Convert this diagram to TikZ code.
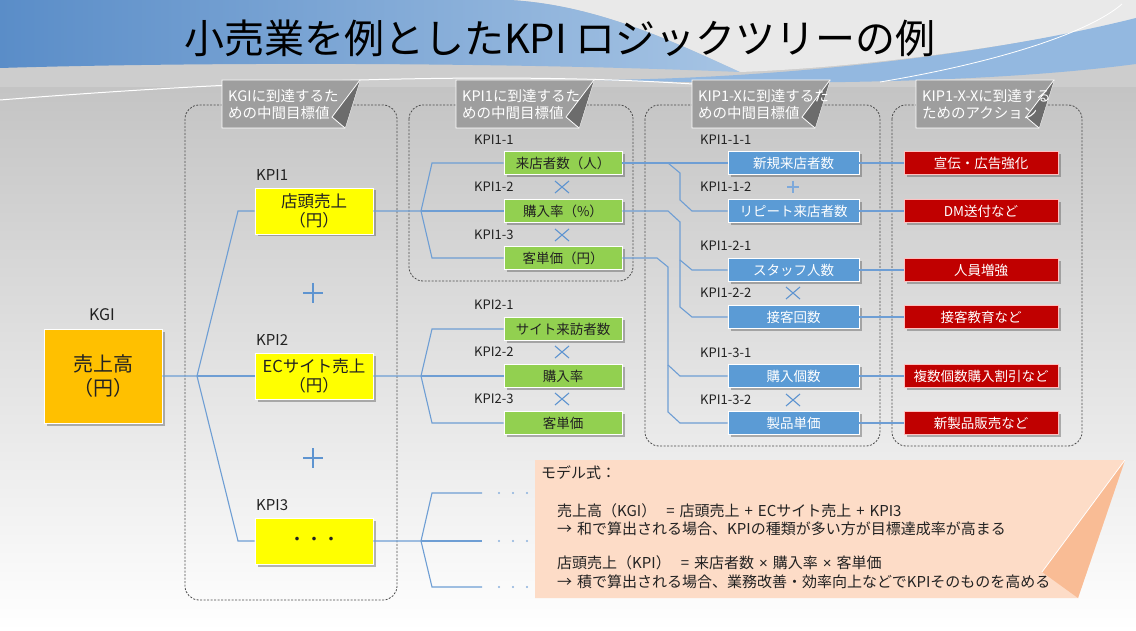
\documentclass[tikz,border=0pt]{standalone}
\usepackage{fontspec}
\setmainfont{Noto Sans CJK JP}
\newfontfamily\latinfont{Liberation Sans}
\usetikzlibrary{shadows}
\definecolor{kgiorange}{HTML}{FFC000}
\definecolor{kyellow}{HTML}{FFFF00}
\definecolor{kgreen}{HTML}{92D050}
\definecolor{kblue}{HTML}{5B9BD5}
\definecolor{kred}{HTML}{C00000}
\definecolor{linec}{HTML}{6E9ED4}
\definecolor{markc}{HTML}{5E94D0}
\definecolor{peach}{HTML}{FDDCC7}
\definecolor{peachdark}{HTML}{F9BC95}
\definecolor{callgray}{HTML}{9E9E9E}
\definecolor{folddark}{HTML}{6C6C6C}
\definecolor{bgA}{HTML}{C4C4C4}
\definecolor{bgTop}{HTML}{CDCDCD}
\definecolor{bgLight}{HTML}{E9E9E9}
\definecolor{blueL}{HTML}{5A8DC8}
\definecolor{blueR}{HTML}{A6C4E4}
\definecolor{swoosh}{HTML}{93B8E0}
\definecolor{txt}{HTML}{222222}
\newcommand\fsz[2]{\fontsize{#1}{#2}\selectfont}
\newcommand\smtimes{{\latinfont ×}}
\newcommand\mygap{\hspace{5pt}}
\tikzset{
  x=1pt, y=-1pt,
  box/.style={rectangle, inner sep=0pt, draw=white, line width=0.8pt,
    drop shadow={shadow xshift=2.5pt, shadow yshift=-2.5pt, opacity=0.4, fill=black!70}},
  gbox/.style={box, fill=kgreen, minimum width=118pt, minimum height=23pt, font=\fsz{13.5}{16}, text=txt},
  bbox/.style={box, fill=kblue, minimum width=131pt, minimum height=23pt, font=\fsz{13.5}{16}, text=white},
  rbox/.style={box, fill=kred, draw=red!25, minimum width=154pt, minimum height=23pt, font=\fsz{13.5}{16}, text=white},
  ybox/.style={box, fill=kyellow, minimum width=118pt, minimum height=46pt, font=\fsz{16.5}{19}, align=center, text=txt},
  lab/.style={anchor=west, inner sep=0pt, font=\fsz{13}{15}, text=txt},
  biglab/.style={anchor=west, inner sep=0pt, font=\fsz{15}{17}, text=txt},
  conn/.style={draw=linec, line width=1.1pt},
  dashbox/.style={draw=black!70, dash pattern=on 2pt off 1.5pt, rounded corners=14pt, line width=0.8pt},
  calltext/.style={anchor=west, inner sep=0pt, align=left, font=\fsz{14.5}{17}, text=white},
  modeltext/.style={anchor=west, inner sep=0pt, font=\fsz{15}{18}, text=txt},
  timesmark/.pic={\draw[markc, line width=1.1pt] (-7,-6) -- (7,6) (-7,6) -- (7,-6);},
  plusbig/.pic={\draw[markc, line width=1.8pt] (-10,0) -- (10,0) (0,-10) -- (0,10);},
  plussmall/.pic={\draw[markc!80, line width=1.1pt] (-6,0) -- (6,0) (0,-6) -- (0,6);},
  callout/.pic={
    \fill[callgray, draw=white, line width=0.8pt] (0,0) -- (138,0) -- (123,48) -- (0,48) -- cycle;
    \fill[folddark] (138,0) -- (123,48) -- (110,37) -- cycle;
    \draw[white, line width=0.8pt] (138,0) -- (110,37) -- (123,48);
  },
}
\begin{document}
\begin{tikzpicture}
\useasboundingbox (0,0) rectangle (1136,631);
% ---------- background ----------
\fill[bgTop] (0,0) rectangle (1136,90);
\shade[top color=bgA, bottom color=white] (0,88) rectangle (1136,631);
\fill[bgLight] (510,0) -- (1136,0) -- (1136,20) .. controls (1000,50) and (850,68) .. (740,72)
  .. controls (680,45) and (600,5) .. (510,0) -- cycle;
\shade[left color=blueL, right color=blueR] (0,0) -- (510,0) .. controls (600,5) and (680,45) .. (740,72)
  .. controls (500,62) and (200,62) .. (0,68) -- cycle;
\fill[swoosh] (600,80) .. controls (800,78) and (1000,52) .. (1136,18) -- (1136,64)
  .. controls (1000,82) and (800,86) .. (600,80) -- cycle;
\draw[white, line width=1pt] (0,100) .. controls (250,80) and (520,70) .. (720,86);
\draw[white, line width=0.8pt] (880,82) .. controls (1000,62) and (1090,32) .. (1122,4);
% ---------- title ----------
\node[inner sep=0pt, font=\fsz{40}{44}, text=black] (title) at (560,38) {小売業を例としたKPI ロジックツリーの例};
% ---------- dashed group boxes ----------
\draw[dashbox] (185,105) rectangle (397,600);
\draw[dashbox] (409,105) rectangle (633,281);
\draw[dashbox] (645,105) rectangle (880,446);
\draw[dashbox] (892,105) rectangle (1082,446);
% ---------- callouts ----------
\pic at (222,80) {callout};
\pic at (456,80) {callout};
\pic at (692,80) {callout};
\pic at (916,80) {callout};
\node[calltext] (c1) at (228,104) {KGIに到達するた\\めの中間目標値};
\node[calltext] (c2) at (462,104) {KPI1に到達するた\\めの中間目標値};
\node[calltext] (c3) at (698,104) {KIP1-Xに到達するた\\めの中間目標値};
\node[calltext] (c4) at (922,104) {KIP1-X-Xに到達する\\ためのアクション};
% ---------- KGI ----------
\node[box, fill=kgiorange, minimum width=118pt, minimum height=94pt, align=center,
  font=\fsz{20}{24}, text=txt] (kgi) at (103,376) {売上高\\（円）};
\node[inner sep=0pt, font=\fsz{16}{18}, text=txt] (kgilab) at (102,315) {KGI};
% ---------- KPI level ----------
\node[ybox] (kpi1) at (314,211) {店頭売上\\（円）};
\node[ybox] (kpi2) at (314,376) {ECサイト売上\\（円）};
\node[ybox, font=\fsz{17}{19}] (kpi3) at (314,541) {・・・};
\node[biglab] (kpi1lab) at (256,175) {KPI1};
\node[biglab] (kpi2lab) at (256,340) {KPI2};
\node[biglab] (kpi3lab) at (256,505) {KPI3};
\pic at (313,293) {plusbig};
\pic at (313,458) {plusbig};
% ---------- green level ----------
\node[gbox] (g1) at (563,163) {来店者数（人）};
\node[gbox] (g2) at (563,211) {購入率（\%）};
\node[gbox] (g3) at (563,258) {客単価（円）};
\node[gbox] (g4) at (563,329) {サイト来訪者数};
\node[gbox] (g5) at (563,376) {購入率};
\node[gbox] (g6) at (563,423) {客単価};
\node[lab] (g1lab) at (474,140) {KPI1-1};
\node[lab] (g2lab) at (474,187) {KPI1-2};
\node[lab] (g3lab) at (474,235) {KPI1-3};
\node[lab] (g4lab) at (474,305) {KPI2-1};
\node[lab] (g5lab) at (474,352) {KPI2-2};
\node[lab] (g6lab) at (474,399) {KPI2-3};
\pic at (562,187) {timesmark};
\pic at (562,235) {timesmark};
\pic at (562,352) {timesmark};
\pic at (562,399) {timesmark};
% ---------- blue level ----------
\node[bbox] (b1) at (793.5,163) {新規来店者数};
\node[bbox] (b2) at (793.5,211) {リピート来店者数};
\node[bbox] (b3) at (793.5,270) {スタッフ人数};
\node[bbox] (b4) at (793.5,317) {接客回数};
\node[bbox] (b5) at (793.5,376) {購入個数};
\node[bbox] (b6) at (793.5,423) {製品単価};
\node[lab] (b1lab) at (700,140) {KPI1-1-1};
\node[lab] (b2lab) at (700,187) {KPI1-1-2};
\node[lab] (b3lab) at (700,246) {KPI1-2-1};
\node[lab] (b4lab) at (700,293) {KPI1-2-2};
\node[lab] (b5lab) at (700,353) {KPI1-3-1};
\node[lab] (b6lab) at (700,400) {KPI1-3-2};
\pic at (793,187) {plussmall};
\pic at (793,293) {timesmark};
\pic at (793,400) {timesmark};
% ---------- red level ----------
\node[rbox] (r1) at (981,163) {宣伝・広告強化};
\node[rbox] (r2) at (981,211) {DM送付など};
\node[rbox] (r3) at (981,270) {人員増強};
\node[rbox] (r4) at (981,317) {接客教育など};
\node[rbox] (r5) at (981,376) {複数個数購入割引など};
\node[rbox] (r6) at (981,423) {新製品販売など};
% ---------- connector coordinates ----------
\coordinate (k0) at (197,376);
\coordinate (k1) at (238,211);
\coordinate (k3) at (238,541);
\coordinate (p1) at (421,211);
\coordinate (p1a) at (432,163);
\coordinate (p1c) at (432,258);
\coordinate (p2) at (421,376);
\coordinate (p2a) at (432,329);
\coordinate (p2c) at (432,423);
\coordinate (p3) at (421,541);
\coordinate (p3a) at (432,493);
\coordinate (p3c) at (432,587);
\coordinate (e3a) at (482,493);
\coordinate (e3b) at (482,541);
\coordinate (e3c) at (482,587);
% ---------- connectors ----------
\draw[conn] (kgi.east) -- (k0) -- (k1) -- (kpi1.west);
\draw[conn] (k0) -- (kpi2.west);
\draw[conn] (k0) -- (k3) -- (kpi3.west);
\draw[conn] (kpi1.east) -- (p1) -- (p1a) -- (g1.west);
\draw[conn] (p1) -- (g2.west);
\draw[conn] (p1) -- (p1c) -- (g3.west);
\draw[conn] (kpi2.east) -- (p2) -- (p2a) -- (g4.west);
\draw[conn] (p2) -- (g5.west);
\draw[conn] (p2) -- (p2c) -- (g6.west);
\draw[conn] (kpi3.east) -- (p3) -- (p3a) -- (e3a);
\draw[conn] (p3) -- (e3b);
\draw[conn] (p3) -- (p3c) -- (e3c);
\foreach \yy in {493,541,587}{
  \foreach \xx in {499,513,527}{
    \fill[linec!80] (\xx,\yy) circle (1.2pt);
  }
}
\draw[conn] (g1.east) -- (b1.west);
\draw[conn] (668,163) -- (680,173) -- (680,200) -- (692,211) -- (b2.west);
\draw[conn] (g2.east) -- (668,211) -- (680,222) -- (680,260) -- (692,270) -- (b3.west);
\draw[conn] (680,260) -- (680,307) -- (692,317) -- (b4.west);
\draw[conn] (g3.east) -- (657,258) -- (668,267) -- (668,365) -- (680,376) -- (b5.west);
\draw[conn] (668,365) -- (668,412) -- (680,423) -- (b6.west);
\foreach \i in {1,...,6}{
  \draw[conn] (b\i.east) -- (r\i.west);
}
% ---------- model box ----------
\fill[peach] (535,460) -- (1125,460) -- (1078,598) -- (535,598) -- cycle;
\fill[peachdark] (1125,460) -- (1078,598) -- (1042,572) -- cycle;
\draw[white, line width=0.8pt] (1125,460) -- (1042,572);
\node[modeltext] (m0) at (541,473) {モデル式：};
\node[modeltext] (m1) at (557,511) {売上高（KGI）\mygap\mygap=\mygap 店頭売上\mygap+\mygap ECサイト売上\mygap+\mygap KPI3};
\node[modeltext] (m2) at (557,529) {→\mygap 和で算出される場合、KPIの種類が多い方が目標達成率が高まる};
\node[modeltext] (m3) at (557,563) {店頭売上（KPI）\mygap\mygap=\mygap 来店者数\mygap\smtimes\mygap 購入率\mygap\smtimes\mygap 客単価};
\node[modeltext] (m4) at (557,582) {→\mygap 積で算出される場合、業務改善・効率向上などでKPIそのものを高める};
\end{tikzpicture}
\end{document}
